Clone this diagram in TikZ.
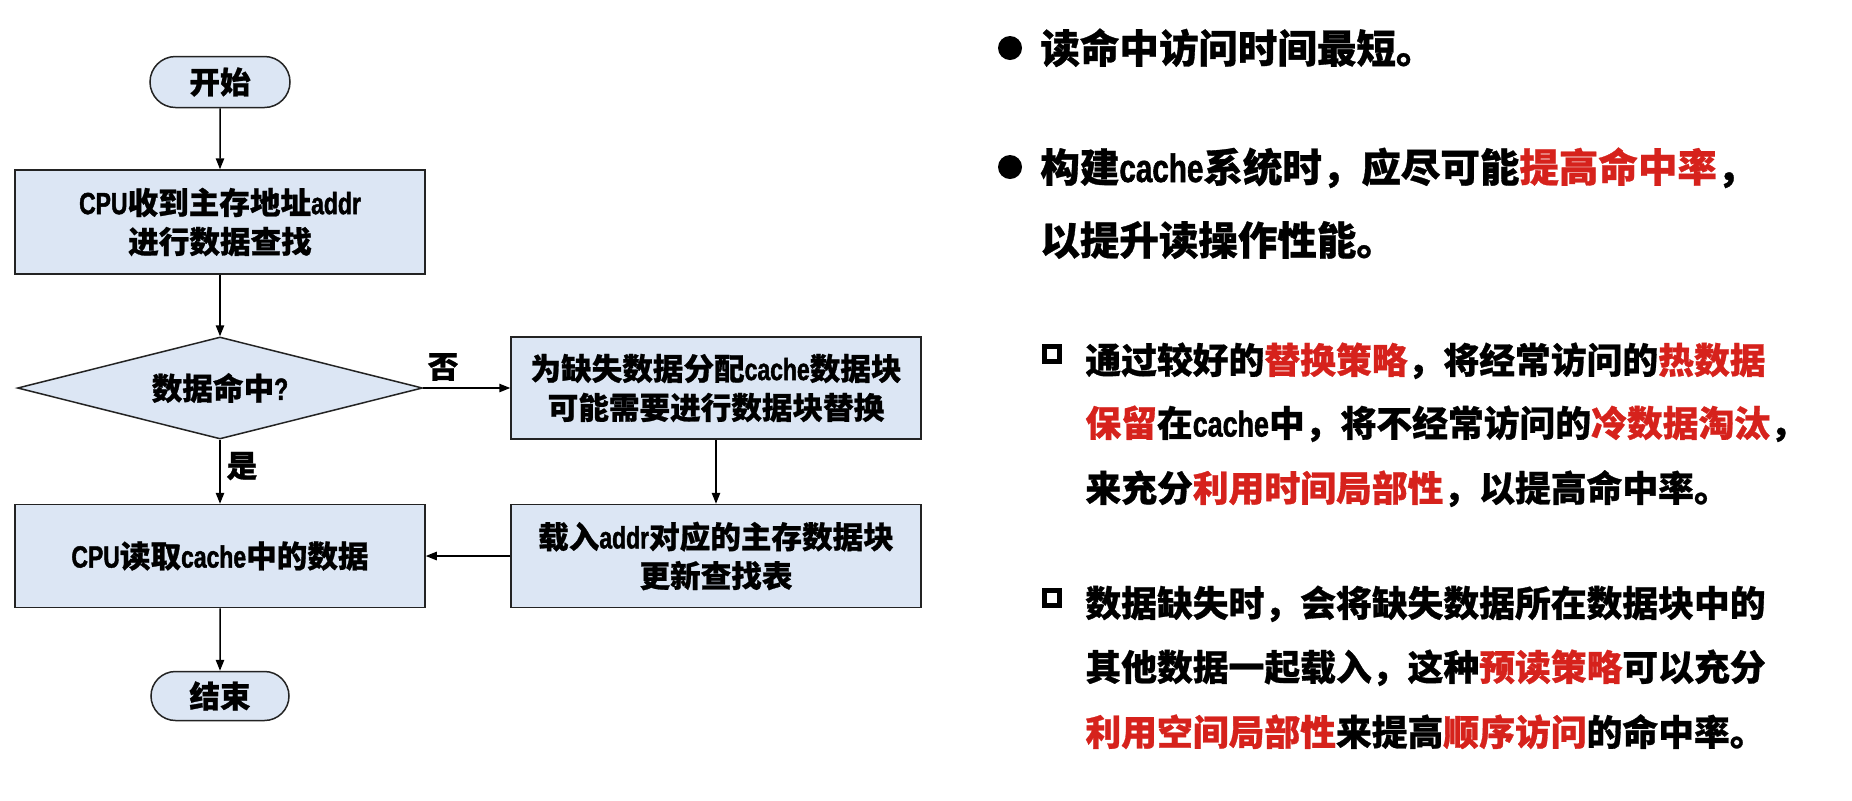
\documentclass[tikz,border=0pt]{standalone}
\usepackage{fontspec}
\setmainfont{Noto Sans CJK SC}[BoldFeatures={FakeBold=0.8}]
\newfontfamily\latf{Liberation Sans}[UprightFont=* Bold, BoldFont=* Bold, FakeStretch=0.75, FakeBold=1.5]
\usetikzlibrary{arrows.meta,shapes.geometric,shapes.misc}
\definecolor{boxfill}{RGB}{220,230,244}
\definecolor{linec}{RGB}{35,35,35}
\definecolor{hot}{RGB}{214,34,28}
\newcommand\EN[1]{{\latf #1}}
\newcommand\redt[1]{\textcolor{hot}{#1}}
\newcommand\flowfont{\fontsize{15.3pt}{19.5pt}\selectfont\bfseries}
\newcommand\lonefont{\fontsize{19.75pt}{24pt}\selectfont\bfseries}
\newcommand\ltwofont{\fontsize{17.9pt}{22pt}\selectfont\bfseries}
\tikzset{
  box/.style={draw=linec, line width=0.75pt, fill=boxfill, rectangle, align=center,
    inner sep=0pt, minimum width=205pt, minimum height=51.5pt, font=\flowfont},
  term/.style={rounded rectangle, draw=linec, line width=0.75pt, fill=boxfill,
    inner sep=0pt, minimum width=70pt, minimum height=25.5pt, font=\flowfont},
  dec/.style={diamond, aspect=4, draw=linec, line width=0.75pt, fill=boxfill,
    minimum width=202.5pt, minimum height=51pt, inner sep=0pt, font=\flowfont},
  arr/.style={-{Triangle[length=5.5pt,width=4.2pt]}, line width=0.75pt, draw=black},
  lbl/.style={font=\flowfont, inner sep=0pt},
  tone/.style={anchor=base west, inner sep=0pt, font=\lonefont},
  ttwo/.style={anchor=base west, inner sep=0pt, font=\ltwofont},
  dot/.style={circle, fill=black, inner sep=0pt, minimum size=12pt},
  sq/.style={rectangle, draw=black, line width=2.8pt, inner sep=0pt, minimum size=7.6pt},
}
\begin{document}
\begin{tikzpicture}[x=0.5pt,y=-0.5pt]
\useasboundingbox (0,0) rectangle (1852,800);
\fill[white] (0,0) rectangle (1852,800);

% flowchart
\node[term] (start) at (220,82) {开始};
\node[box, minimum height=52pt] (b1) at (220,222) {\EN{CPU}收到主存地址\EN{addr}\\进行数据查找};
\node[dec] (dec) at (220,388) {数据命中\EN{?}};
\node[box, minimum height=51pt] (b2) at (716,388) {为缺失数据分配\EN{cache}数据块\\可能需要进行数据块替换};
\node[box] (b3) at (716,556) {载入\EN{addr}对应的主存数据块\\更新查找表};
\node[box] (b4) at (220,556) {\EN{CPU}读取\EN{cache}中的数据};
\node[term, minimum width=69pt, minimum height=24.5pt] (end) at (220,696) {结束};

\draw[arr] (start) -- (b1);
\draw[arr] (b1) -- (dec);
\draw[arr] (dec.east) -- (b2.west);
\draw[arr] (b2) -- (b3);
\draw[arr] (b3.west) -- (b4.east);
\draw[arr] (dec.south) -- (b4.north);
\draw[arr] (b4) -- (end);

\node[lbl] (no) at (443,367) {否};
\node[lbl] (yes) at (242,466) {是};

% right-hand text
\node[dot] (d1) at (1010,48) {};
\node[tone] (l1) at (1040,63) {读命中访问时间最短。};
\node[dot] (d2) at (1010,167) {};
\node[tone] (l2a) at (1040,182) {构建\EN{cache}系统时，应尽可能\redt{提高命中率}，};
\node[tone] (l2b) at (1040,255) {以提升读操作性能。};

\node[sq] (s1) at (1052,354) {};
\node[ttwo] (s1a) at (1085,373.5) {通过较好的\redt{替换策略}，将经常访问的\redt{热数据}};
\node[ttwo] (s1b) at (1085,436.5) {\redt{保留}在\EN{cache}中，将不经常访问的\redt{冷数据淘汰}，};
\node[ttwo] (s1c) at (1085,501.5) {来充分\redt{利用时间局部性}，以提高命中率。};

\node[sq] (s2) at (1052,598) {};
\node[ttwo] (s2a) at (1085,616.5) {数据缺失时，会将缺失数据所在数据块中的};
\node[ttwo] (s2b) at (1085,680.5) {其他数据一起载入，这种\redt{预读策略}可以充分};
\node[ttwo] (s2c) at (1085,745.5) {\redt{利用空间局部性}来提高\redt{顺序访问}的命中率。};
\end{tikzpicture}
\end{document}
